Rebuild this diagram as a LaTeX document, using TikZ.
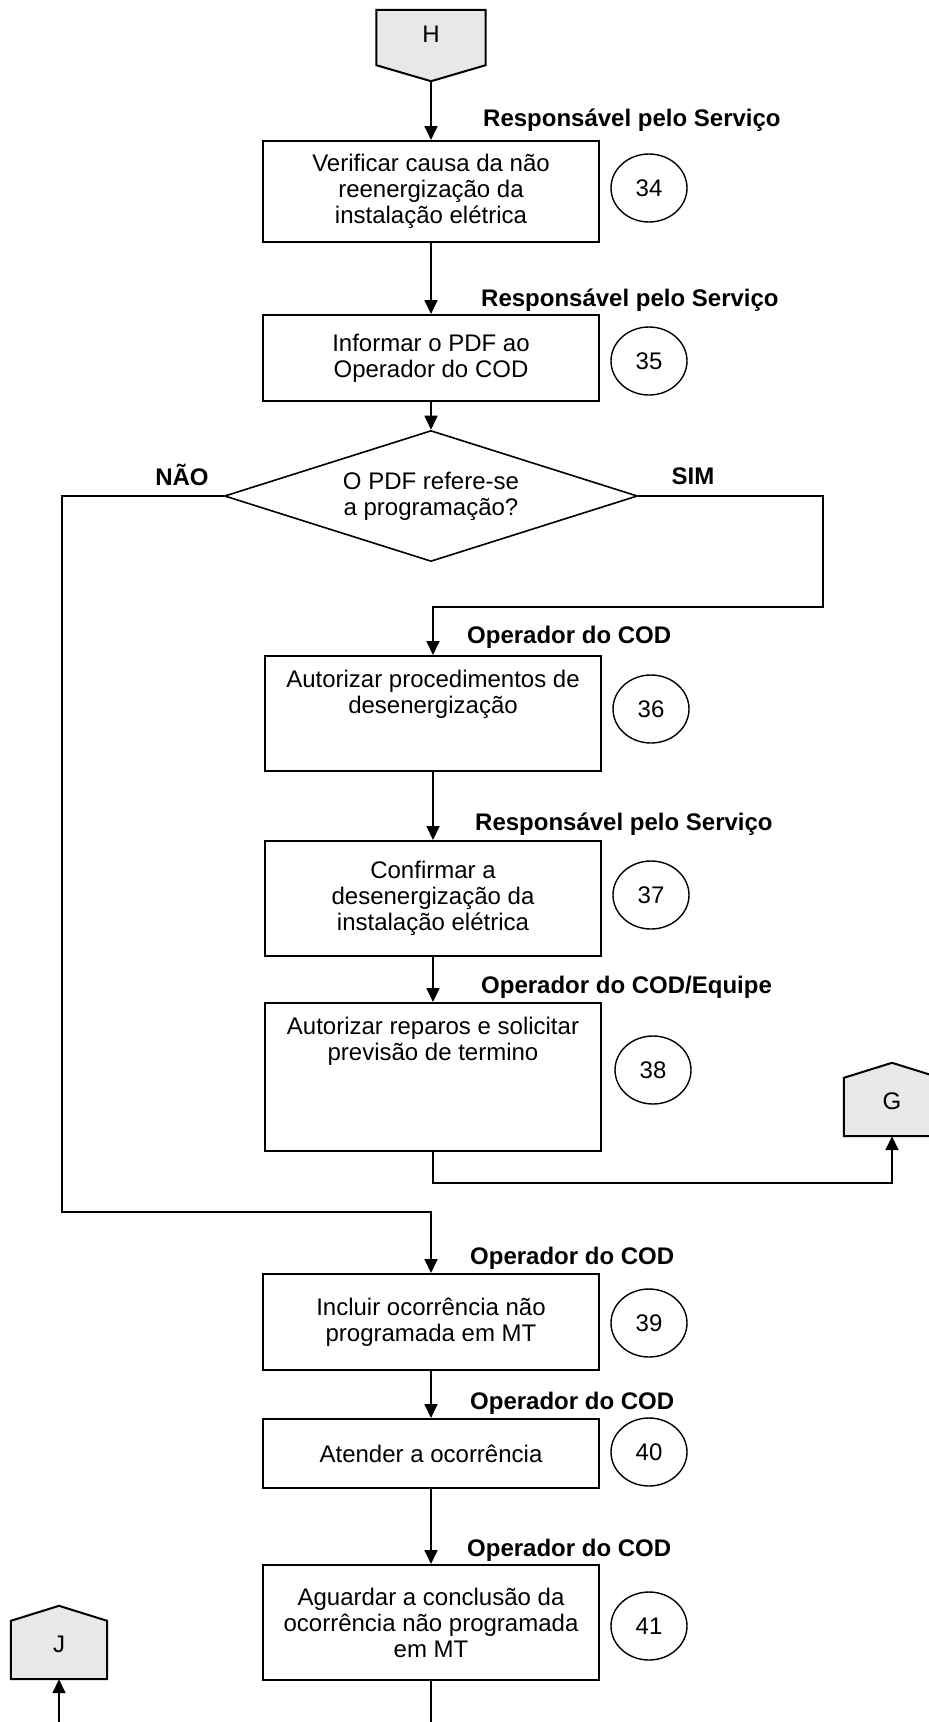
\documentclass[tikz,border=0pt]{standalone}
\usepackage{fontspec}
\setmainfont{Liberation Sans}
\usetikzlibrary{arrows.meta,shapes.geometric,calc}
\definecolor{pentfill}{RGB}{232,232,232}
\begin{document}
\begin{tikzpicture}[x=1pt,y=-1pt,
  every node/.style={font=\fontsize{24}{26}\selectfont},
  box/.style={draw, line width=2pt, minimum width=336pt, inner sep=0pt, align=center},
  num/.style={ellipse, draw, line width=1.4pt, minimum width=76pt, minimum height=68pt, inner sep=0pt},
  role/.style={anchor=west, inner sep=0pt, font=\fontsize{24}{26}\selectfont\bfseries},
  answer/.style={inner sep=0pt, font=\fontsize{24}{26}\selectfont\bfseries},
  flow/.style={line width=1.8pt, -{Triangle[length=14pt,width=13pt]}},
  plain/.style={line width=1.8pt},
  pent/.style={draw, fill=pentfill, line width=2pt},
  pentcore/.style={minimum width=#1, inner sep=0pt},
]
\useasboundingbox (0,0) rectangle (929,1722);

% ---- connectors (off-page) ----
\node[pentcore=109pt, minimum height=55pt] (H) at (431,37.5) {};
\filldraw[pent] (H.north west) -- (H.north east) -- (H.south east) -- ($(H.south)+(0,16)$) -- (H.south west) -- cycle;
\node (HL) at (431,34) {H};
\coordinate (Htip) at ($(H.south)+(0,16)$);

\node[pentcore=96pt, minimum height=58pt] (G) at (892,1107) {};
\filldraw[pent] (G.south west) -- (G.north west) -- ($(G.north)+(0,-15)$) -- (G.north east) -- (G.south east) -- cycle;
\node (GL) at (892,1101) {G};

\node[pentcore=96pt, minimum height=58pt] (J) at (59,1650) {};
\filldraw[pent] (J.south west) -- (J.north west) -- ($(J.north)+(0,-15)$) -- (J.north east) -- (J.south east) -- cycle;
\node (JL) at (59,1644) {J};

% ---- process boxes ----
\node[box, minimum height=101pt] (b34) at (431,191.5) {Verificar causa da não\\reenergização da\\instalação elétrica};
\node[box, minimum height=86pt] (b35) at (431,358) {Informar o PDF ao\\Operador do COD};
\node[diamond, draw, line width=1.6pt, aspect=3.15, minimum width=413pt, minimum height=131pt, inner sep=0pt, align=center] (dec) at (431,496) {O PDF refere-se\\a programação?};
\node[box, minimum height=115pt] (b36) at (433,713.5) {};
\node[align=center, inner sep=0pt] (t36) at (433,694.5) {Autorizar procedimentos de\\desenergização};
\node[box, minimum height=115pt] (b37) at (433,898.5) {Confirmar a\\desenergização da\\instalação elétrica};
\node[box, minimum height=148pt] (b38) at (433,1077) {};
\node[align=center, inner sep=0pt] (t38) at (433,1041) {Autorizar reparos e solicitar\\previsão de termino};
\node[box, minimum height=96pt] (b39) at (431,1322) {Incluir ocorrência não\\programada em MT};
\node[box, minimum height=69pt] (b40) at (431,1453.5) {Atender a ocorrência};
\node[box, minimum height=115pt] (b41) at (431,1622.5) {Aguardar a conclusão da\\ocorrência não programada\\em MT};

% ---- step numbers ----
\node[num] (c34) at (649,188) {34};
\node[num] (c35) at (649,361) {35};
\node[num] (c36) at (651,709) {36};
\node[num] (c37) at (651,895) {37};
\node[num] (c38) at (653,1070) {38};
\node[num] (c39) at (649,1323) {39};
\node[num] (c40) at (649,1452) {40};
\node[num] (c41) at (649,1626) {41};

% ---- roles ----
\node[role] (r34) at (483,120) {Responsável pelo Serviço};
\node[role] (r35) at (481,300) {Responsável pelo Serviço};
\node[role] (r36) at (467,637) {Operador do COD};
\node[role] (r37) at (475,824) {Responsável pelo Serviço};
\node[role] (r38) at (481,987) {Operador do COD/Equipe};
\node[role] (r39) at (470,1258) {Operador do COD};
\node[role] (r40) at (470,1403) {Operador do COD};
\node[role] (r41) at (467,1550) {Operador do COD};

\node[answer] (nao) at (182,475) {NÃO};
\node[answer] (sim) at (693,476) {SIM};

% ---- flow ----
\draw[flow] (Htip) -- (Htip |- b34.north);
\draw[flow] (b34.south) -- (b35.north);
\draw[flow] (b35.south) -- (dec.north);
\draw[flow] (dec.east) -- ++(185,0) |- ($(b36.north)+(0,-48)$) -- (b36.north);
\draw[flow] (dec.west) -- ++(-162,0) |- ($(b39.north)+(0,-61)$) -- (b39.north);
\draw[flow] (b36.south) -- (b37.north);
\draw[flow] (b37.south) -- (b38.north);
\draw[flow] (b38.south) -- ++(0,31) -| (G.south);
\draw[flow] (b39.south) -- (b40.north);
\draw[flow] (b40.south) -- (b41.north);
\coordinate (out41) at (431,1722);
\draw[plain] (b41.south) -- (out41);
\coordinate (inJ) at (59,1722);
\draw[flow] (inJ) -- (J.south);
\end{tikzpicture}
\end{document}
